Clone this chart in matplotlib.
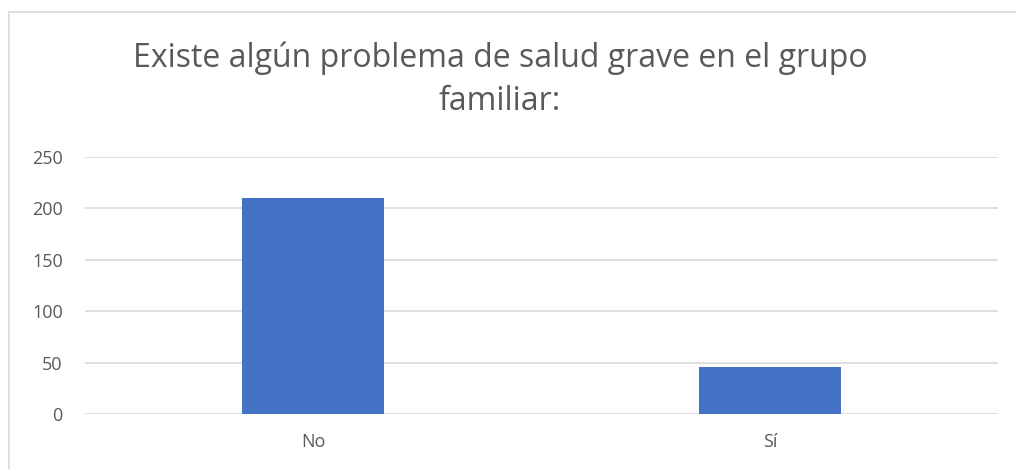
import matplotlib
matplotlib.use("Agg")
import matplotlib.pyplot as plt
from matplotlib.patches import Rectangle

categories = ["No", "Sí"]
counts = [210, 46]
yticks = [0, 50, 100, 150, 200, 250]
title = "Existe algún problema de salud grave en el grupo\nfamiliar:"

plt.rcParams["font.family"] = ["Open Sans", "DejaVu Sans"]

W, H = 1016, 469
fig = plt.figure(figsize=(W / 100, H / 100), dpi=100)
ax = fig.add_axes([85 / W, 1 - 414 / H, 913 / W, (414 - 157) / H])

x = range(len(categories))
ax.bar(x, counts, width=0.31, color="#4472C4", zorder=3)
ax.set_xlim(-0.5, len(categories) - 0.5)
ax.set_ylim(0, 250)
ax.set_yticks(yticks)
ax.set_xticks(list(x))
ax.set_xticklabels(categories)
ax.grid(axis="y", color="#D9D9D9", linewidth=1.2, zorder=0)
for s in ax.spines.values():
    s.set_visible(False)
ax.tick_params(length=0, colors="#595959", labelsize=13)
ax.tick_params(axis="y", pad=16)
ax.tick_params(axis="x", pad=14)

fig.text(500 / W, 1 - 80 / H, title, ha="center", va="center",
         fontsize=23, color="#595959", linespacing=1.42)

# chart border
fig.patches.append(Rectangle((9 / W, -0.01), 1.1, 1 - 12 / H + 0.01,
                             transform=fig.transFigure, fill=False,
                             edgecolor="#D9D9D9", linewidth=1.2))

fig.savefig("out.png", dpi=100)
